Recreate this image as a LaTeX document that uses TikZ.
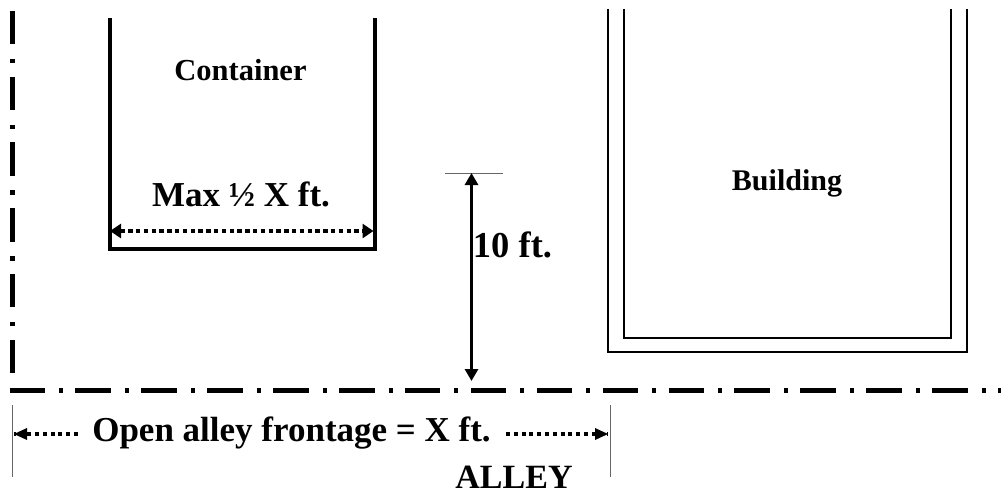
\documentclass[tikz,border=0pt]{standalone}
\usepackage{fontspec}
\setmainfont{Liberation Serif}
\usetikzlibrary{arrows.meta}
\newcommand{\txt}[1]{\fontsize{#1}{#1}\selectfont\bfseries}
\tikzset{
  x=1pt,y=-1pt,
  lbl/.style={inner sep=0pt,anchor=base,text=black},
  dashdoth/.style={line width=5pt,dash pattern=on 35.5pt off 14pt on 4pt off 12.4pt},
  dashdotv/.style={line width=5pt,dash pattern=on 33.5pt off 14.5pt on 4.5pt off 13.2pt},
  wall/.style={line width=4pt,line cap=butt,line join=miter},
  bwall/.style={line width=2pt,line join=miter},
  thin rule/.style={line width=0.8pt,draw=black!60},
  dimsolid/.style={line width=3.8pt,{Triangle[length=12pt,width=13pt]}-{Triangle[length=12pt,width=13pt]}},
  dimdotA/.style={line width=4pt,dash pattern=on 4.4pt off 3.4pt,{Triangle[length=11pt,width=14pt]}-{Triangle[length=11pt,width=14pt]}},
  dimdotB/.style={line width=3.4pt,dash pattern=on 4pt off 3.8pt},
}
\begin{document}
\begin{tikzpicture}
\useasboundingbox[fill=white] (0,0) rectangle (1001,492);
% property lines
\coordinate (vtop) at (12.3,11);
\coordinate (vbot) at (12.3,374);
\coordinate (hl) at (9.5,390);
\coordinate (hr) at (1001,390);
\draw[dashdotv] (vtop) -- (vbot);
\draw[dashdoth] (hl) -- (hr);
% container
\coordinate (c1) at (110,18);
\coordinate (c2) at (110,249);
\coordinate (c3) at (375,249);
\coordinate (c4) at (375,18);
\draw[wall] (c1) -- (c2) -- (c3) -- (c4);
\node[lbl] (container) at (240.5,81) {\txt{30.5}Container};
\node[lbl] (maxx) at (241,206) {\txt{35}Max ½ X ft.};
\coordinate (dl) at (110,231);
\coordinate (dr) at (373.5,231);
\draw[dimdotA] (dl) -- (dr);
% building
\coordinate (bo1) at (608,9);
\coordinate (bo2) at (608,352);
\coordinate (bo3) at (966.5,352);
\coordinate (bo4) at (966.5,9);
\coordinate (bi1) at (624,9);
\coordinate (bi2) at (624,337.5);
\coordinate (bi3) at (950.5,337.5);
\coordinate (bi4) at (950.5,9);
\draw[bwall] (bo1) -- (bo2) -- (bo3) -- (bo4);
\draw[bwall] (bi1) -- (bi2) -- (bi3) -- (bi4);
\node[lbl] (building) at (787,190) {\txt{30}Building};
% 10 ft
\coordinate (t1) at (445,173);
\coordinate (t2) at (503,173);
\draw[thin rule] (t1) -- (t2);
\coordinate (a1) at (471.5,173);
\coordinate (a2) at (471.5,381);
\draw[dimsolid] (a1) -- (a2);
\node[lbl] (ten) at (512.5,257) {\txt{36.5}10 ft.};
% frontage
\coordinate (f1) at (12,405);
\coordinate (f2) at (12,477);
\coordinate (f3) at (610,405);
\coordinate (f4) at (610,477);
\draw[thin rule] (f1) -- (f2);
\draw[thin rule] (f3) -- (f4);
\node[lbl] (front) at (291.5,441) {\txt{35}Open alley frontage = X ft.};
\node[lbl] (alley) at (514,488.5) {\txt{34}ALLEY};
\coordinate (l1) at (14,434);
\coordinate (l2) at (78,434);
\coordinate (r1) at (506,434);
\coordinate (r2) at (608,434);
\draw[dimdotB] (l2) -- (l1);
\draw[dimdotB] (r1) -- (r2);
\fill (l1) -- ++(13,-6) -- ++(0,12) -- cycle;
\fill (r2) -- ++(-13,-6) -- ++(0,12) -- cycle;
\end{tikzpicture}
\end{document}
